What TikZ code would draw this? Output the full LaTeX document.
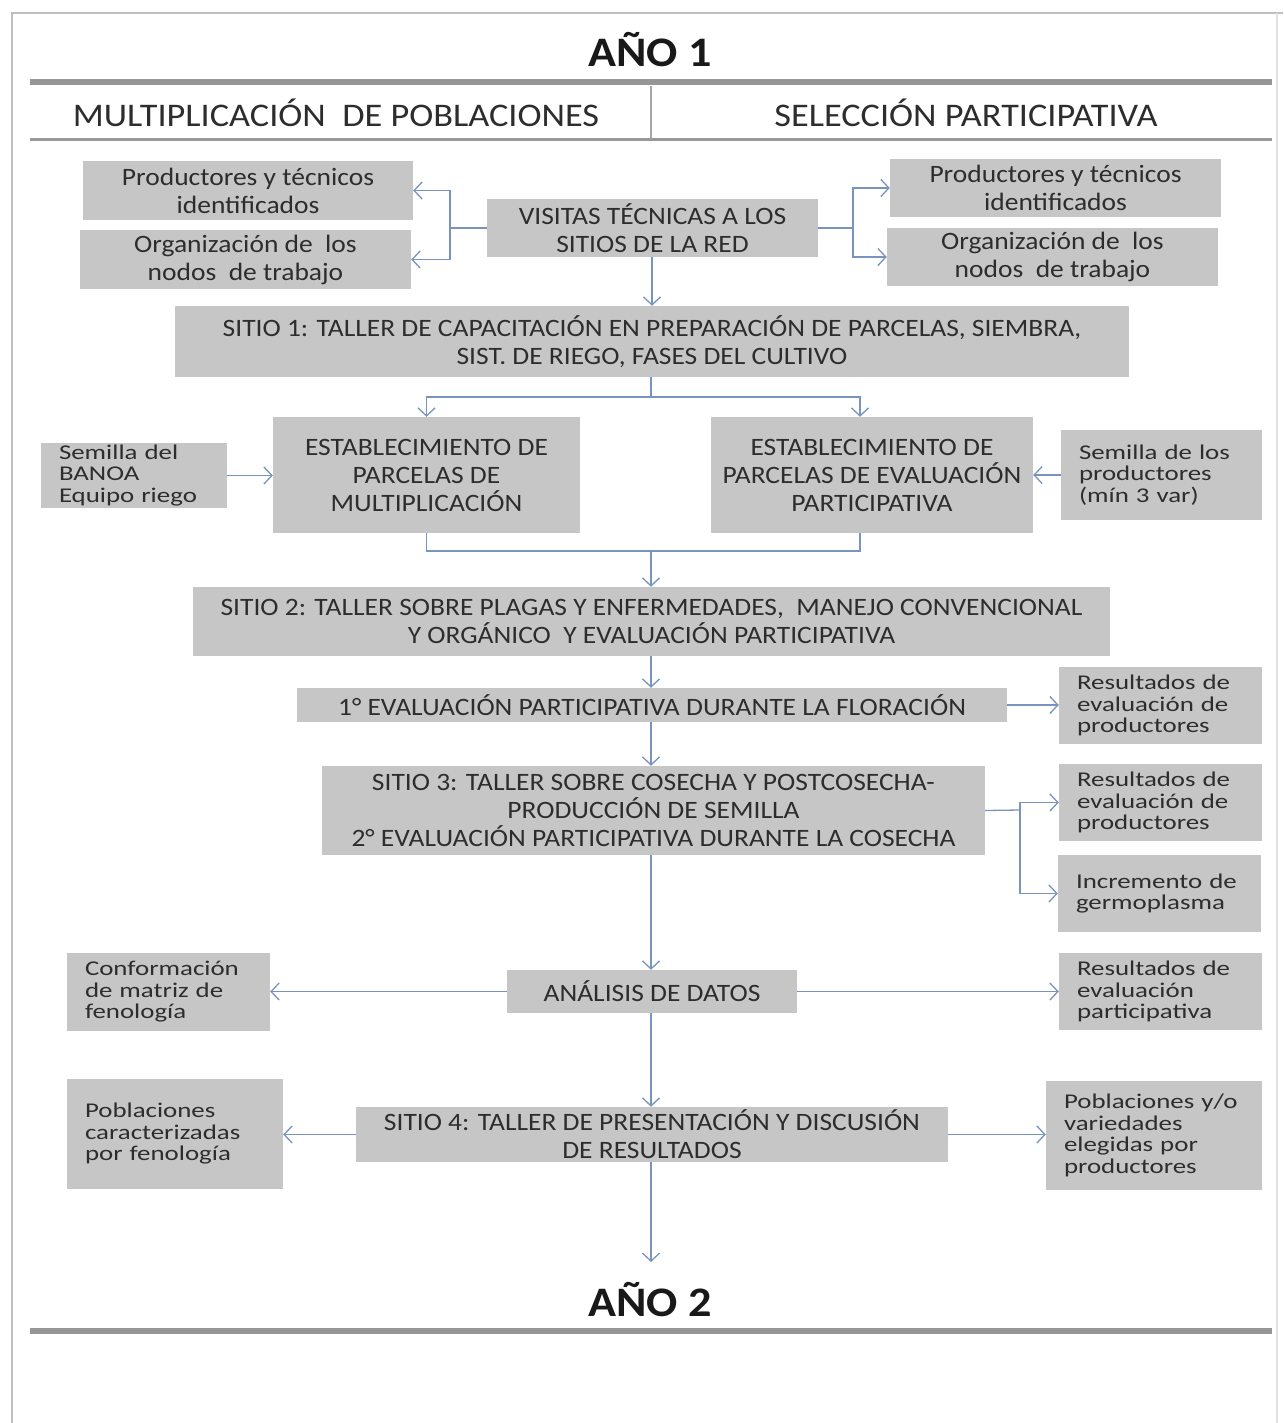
\documentclass[tikz,border=0pt]{standalone}
\usepackage{fontspec}
\setmainfont{Carlito}[FakeStretch=1.1]
\newfontfamily\narrowfont{Carlito}[FakeStretch=1.28]
\usetikzlibrary{arrows.meta,calc}
\definecolor{boxgray}{RGB}{198,198,198}
\definecolor{conncol}{RGB}{120,148,190}
\definecolor{rulegray}{RGB}{150,150,150}
\definecolor{txt}{RGB}{45,45,45}
\begin{document}
\begin{tikzpicture}[x=1pt,y=-1pt,
  box/.style={fill=boxgray, inner sep=0pt, align=center, text=txt,
    font=\fontsize{25}{28}\selectfont},
  sbox/.style={fill=boxgray, inner xsep=18pt, inner ysep=0pt, align=left, text=txt,
    font=\narrowfont\fontsize{21}{21.5}\selectfont},
  conn/.style={draw=conncol, line width=1.3pt, -{Straight Barb[length=8pt,width=17pt]}},
  plain/.style={draw=conncol, line width=1.3pt},
  title/.style={font=\fontsize{42}{46}\selectfont\bfseries, text=black!90},
  head/.style={font=\fontsize{33}{36}\selectfont, text=txt}]
\useasboundingbox (0,0) rectangle (1283,1423);
% frame
\draw[black!25, line width=1.5pt] (12,1423) -- (12,13) -- (1283,13);
\draw[black!12, line width=1.5pt] (1277,13) -- (1277,1423);
% titles and rules
\node[title] (ano1) at (650,50) {AÑO 1};
\draw[rulegray, line width=6pt] (30,82) -- (1272,82);
\node[head] (hl) at (336,113) {MULTIPLICACIÓN~ DE POBLACIONES};
\node[head] (hr) at (966,113) {SELECCIÓN PARTICIPATIVA};
\draw[black!35, line width=1.2pt] (651,86) -- (651,138);
\draw[black!40, line width=3pt] (30,140) -- (1272,140);
\node[title] (ano2) at (650,1300) {AÑO 2};
\draw[rulegray, line width=6pt] (30,1331) -- (1272,1331);

% boxes
\node[box, minimum width=330, minimum height=59] (ptl) at (248,190.5) {Productores y técnicos\\identificados};
\node[box, minimum width=331, minimum height=59] (orl) at (245.5,259.5) {Organización de~ los\\nodos~ de trabajo};
\node[box, minimum width=331, minimum height=58] (vis) at (652.5,228) {VISITAS TÉCNICAS A LOS\\SITIOS DE LA RED};
\node[box, minimum width=331, minimum height=58] (ptr) at (1055.5,188) {Productores y técnicos\\identificados};
\node[box, minimum width=331, minimum height=58] (orr) at (1052.5,257) {Organización de~ los\\nodos~ de trabajo};
\node[box, minimum width=954, minimum height=71] (s1) at (652,341.5) {SITIO 1: TALLER DE CAPACITACIÓN EN PREPARACIÓN DE PARCELAS, SIEMBRA,\\SIST. DE RIEGO, FASES DEL CULTIVO};
\node[box, minimum width=307, minimum height=116] (estl) at (426.5,475) {ESTABLECIMIENTO DE\\PARCELAS DE\\MULTIPLICACIÓN};
\node[box, minimum width=322, minimum height=116] (estr) at (872,475) {ESTABLECIMIENTO DE\\PARCELAS DE EVALUACIÓN\\PARTICIPATIVA};
\node[sbox, text width=150, minimum height=65] (sbl) at (134,475.5) {Semilla del\\BANOA\\Equipo riego};
\node[sbox, text width=165, minimum height=90] (sbr) at (1161.5,475) {Semilla de los\\productores\\(mín 3 var)};
\node[box, minimum width=917, minimum height=69] (s2) at (651.5,621.5) {SITIO 2: TALLER SOBRE PLAGAS Y ENFERMEDADES,~ MANEJO CONVENCIONAL\\Y ORGÁNICO~ Y EVALUACIÓN PARTICIPATIVA};
\node[box, minimum width=710, minimum height=34] (ev1) at (652,705) {1° EVALUACIÓN PARTICIPATIVA DURANTE LA FLORACIÓN};
\node[sbox, text width=167, minimum height=77] (r1) at (1160.5,705.5) {Resultados de\\evaluación de\\productores};
\node[box, minimum width=663, minimum height=89] (s3) at (653.5,810.5) {SITIO 3: TALLER SOBRE COSECHA Y POSTCOSECHA-\\PRODUCCIÓN DE SEMILLA\\2° EVALUACIÓN PARTICIPATIVA DURANTE LA COSECHA};
\node[sbox, text width=167, minimum height=77] (r2) at (1160.5,802.5) {Resultados de\\evaluación de\\productores};
\node[sbox, text width=167, minimum height=77] (inc) at (1159.5,893.5) {Incremento de\\germoplasma};
\node[box, minimum width=290, minimum height=43] (an) at (652,991.5) {ANÁLISIS DE DATOS};
\node[sbox, text width=167, minimum height=78] (conf) at (168.5,992) {Conformación\\de matriz de\\fenología};
\node[sbox, text width=167, minimum height=77] (rp) at (1160.5,991.5) {Resultados de\\evaluación\\participativa};
\node[box, minimum width=592, minimum height=55] (s4) at (652,1134.5) {SITIO 4: TALLER DE PRESENTACIÓN Y DISCUSIÓN\\DE RESULTADOS};
\node[sbox, text width=180, minimum height=110] (pc) at (175,1134) {Poblaciones\\caracterizadas\\por fenología};
\node[sbox, text width=180, minimum height=109] (py) at (1154,1135.5) {Poblaciones y/o\\variedades\\elegidas por\\productores};

% connectors
\coordinate (jl) at (450,228);
\draw[plain] (vis.west) -- (jl);
\draw[conn] (jl) |- (ptl.east);
\draw[conn] (jl) |- (orl.east);
\coordinate (jr) at (853,228);
\draw[plain] (vis.east) -- (jr);
\draw[conn] (jr) |- (ptr.west);
\draw[conn] (jr) |- (orr.west);
\draw[conn] (vis.south -| s1.north) -- (s1.north);

\coordinate (b1) at (651,397);
\draw[plain] (s1.south -| b1) -- (b1);
\draw[conn] (b1) -| (estl.north);
\draw[conn] (b1) -| (estr.north -| 860,0);
\draw[conn] (sbl.east) -- (sbl.east -| estl.west);
\draw[conn] (sbr.west) -- (sbr.west -| estr.east);

\coordinate (b2) at (651,551);
\draw[plain] (estl.south) |- (b2);
\draw[plain] (estr.south -| 860,0) |- (b2);
\draw[conn] (b2) -- (b2 |- s2.north);

\draw[conn] (s2.south -| b2) -- (ev1.north -| b2);
\draw[conn] (ev1.east) -- (ev1.east -| r1.west);
\draw[conn] (ev1.south -| b2) -- (s3.north -| b2);

\coordinate (j3) at (1020,810);
\draw[plain] (s3.east) -- (j3);
\draw[conn] (j3) |- (r2.west);
\draw[conn] (j3) |- (inc.west);
\draw[conn] (s3.south -| b2) -- (an.north -| b2);

\draw[conn] (an.west) -- (an.west -| conf.east);
\draw[conn] (an.east) -- (an.east -| rp.west);
\draw[conn] (an.south -| b2) -- (s4.north -| b2);

\draw[conn] (s4.west) -- (s4.west -| pc.east);
\draw[conn] (s4.east) -- (s4.east -| py.west);
\coordinate (endarrow) at (651,1262);
\draw[conn] (s4.south -| b2) -- (endarrow);
\end{tikzpicture}
\end{document}
